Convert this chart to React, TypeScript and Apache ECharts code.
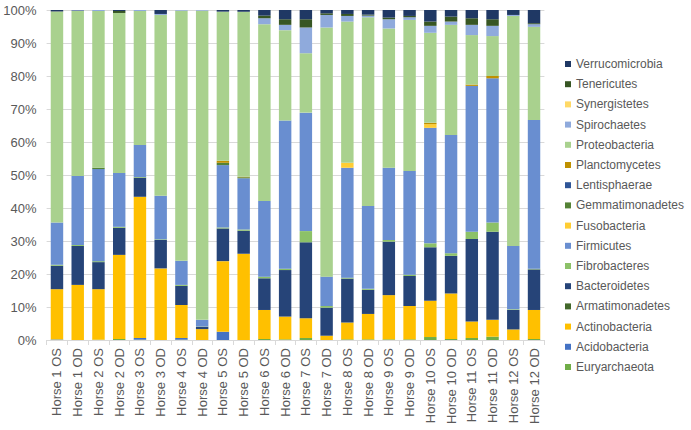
import React, { useEffect, useRef } from "react";
import * as echarts from "echarts";

const categories = [
  "Horse 1 OS", "Horse 1 OD", "Horse 2 OS", "Horse 2 OD", "Horse 3 OS", "Horse 3 OD",
  "Horse 4 OS", "Horse 4 OD", "Horse 5 OS", "Horse 5 OD", "Horse 6 OS", "Horse 6 OD",
  "Horse 7 OS", "Horse 7 OD", "Horse 8 OS", "Horse 8 OD", "Horse 9 OS", "Horse 9 OD",
  "Horse 10 OS", "Horse 10 OD", "Horse 11 OS", "Horse 11 OD", "Horse 12 OS", "Horse 12 OD",
];

const euryarchaeota = [0.1, 0, 0.1, 0.3, 0.1, 0, 0.1, 0, 0, 0, 0.3, 0.2, 0.6, 0, 0.2, 0.2, 0.2, 0.2, 0.9, 0.3, 0.6, 1.0, 0, 0.3];
const acidobacteria = [0.1, 0, 0, 0, 0.5, 0, 0.5, 0, 2.5, 0, 0, 0, 0, 0, 0, 0, 0, 0, 0, 0, 0, 0, 0, 0];
const actinobacteria = [15.2, 16.7, 15.3, 25.5, 42.8, 21.7, 10.0, 3.3, 21.4, 26.1, 8.8, 6.9, 6.0, 1.3, 5.1, 7.7, 13.4, 10.1, 11.0, 13.8, 5.0, 5.1, 3.2, 8.8];
const armatimonadetes = [0, 0, 0, 0, 0, 0, 0, 0, 0, 0, 0, 0, 0, 0, 0, 0, 0, 0, 0, 0, 0, 0, 0, 0];
const bacteroidetes = [7.1, 11.8, 8.2, 8.2, 5.8, 8.6, 5.8, 0.7, 9.9, 7.0, 9.6, 14.1, 23.0, 8.5, 13.3, 7.3, 16.2, 9.1, 16.2, 11.4, 25.0, 26.7, 5.9, 12.3];
const fibrobacteres = [0.3, 0.3, 0.3, 0.3, 0.2, 0.2, 0.3, 0.1, 0.3, 0.4, 0.5, 0.4, 3.4, 0.5, 0.3, 0.3, 0.5, 0.4, 1.2, 0.8, 2.2, 2.8, 0.2, 0.2];
const firmicutes = [12.8, 20.9, 27.9, 16.3, 9.7, 13.2, 7.3, 2.0, 18.9, 15.5, 22.9, 44.9, 35.9, 8.9, 33.3, 25.1, 21.9, 31.4, 35.0, 35.8, 44.2, 43.7, 19.2, 45.1];
const fusobacteria = [0, 0, 0, 0, 0, 0, 0, 0, 0, 0, 0, 0, 0, 0, 1.5, 0, 0, 0, 1.1, 0, 0, 0, 0, 0];
const gemmatimonadetes = [0, 0, 0.4, 0, 0, 0, 0, 0, 0.7, 0.3, 0, 0, 0, 0, 0, 0, 0, 0, 0, 0, 0, 0, 0, 0];
const lentisphaerae = [0, 0, 0, 0, 0, 0, 0, 0, 0, 0, 0, 0, 0, 0, 0, 0, 0, 0, 0, 0, 0, 0, 0, 0];
const planctomycetes = [0, 0, 0, 0, 0, 0, 0, 0, 0.6, 0.2, 0, 0, 0, 0, 0, 0, 0, 0, 0.4, 0, 0.4, 0.7, 0, 0];
const proteobacteria = [63.9, 50.0, 47.5, 48.5, 40.6, 54.8, 75.8, 93.7, 45.2, 50.0, 53.6, 27.4, 18.0, 75.5, 42.8, 57.2, 42.2, 45.8, 27.3, 33.4, 15.0, 12.1, 69.7, 28.2];
const spirochaetes = [0, 0.2, 0.3, 0, 0.3, 0.3, 0.2, 0.2, 0, 0, 1.8, 1.6, 7.8, 3.8, 1.7, 0.5, 2.8, 0.8, 2.1, 1.0, 3.1, 3.1, 0.3, 0.8];
const synergistetes = [0, 0, 0, 0, 0, 0, 0, 0, 0, 0, 0, 0, 0, 0, 0, 0, 0, 0, 0, 0, 0, 0, 0, 0];
const tenericutes = [0.1, 0, 0, 0.6, 0, 0, 0, 0, 0, 0, 0.8, 1.7, 2.5, 0.5, 0.6, 0.3, 0.5, 0.4, 1.3, 1.5, 2.0, 2.0, 0, 0.3];
const verrucomicrobia = [0.4, 0.1, 0, 0.3, 0, 1.2, 0, 0, 0.5, 0.5, 1.7, 2.8, 2.8, 1.0, 1.2, 1.4, 2.3, 1.8, 3.5, 2.0, 2.5, 2.8, 1.5, 4.0];

const yTicks = [0, 10, 20, 30, 40, 50, 60, 70, 80, 90, 100];

const seriesDefs: [string, number[], string][] = [
  ["Euryarchaeota", euryarchaeota, "#70AD47"],
  ["Acidobacteria", acidobacteria, "#4472C4"],
  ["Actinobacteria", actinobacteria, "#FFC000"],
  ["Armatimonadetes", armatimonadetes, "#43682B"],
  ["Bacteroidetes", bacteroidetes, "#264478"],
  ["Fibrobacteres", fibrobacteres, "#8CC168"],
  ["Firmicutes", firmicutes, "#698ED0"],
  ["Fusobacteria", fusobacteria, "#FFCD33"],
  ["Gemmatimonadetes", gemmatimonadetes, "#548235"],
  ["Lentisphaerae", lentisphaerae, "#2F5597"],
  ["Planctomycetes", planctomycetes, "#BF9000"],
  ["Proteobacteria", proteobacteria, "#A9D18E"],
  ["Spirochaetes", spirochaetes, "#8FAADC"],
  ["Synergistetes", synergistetes, "#FFD966"],
  ["Tenericutes", tenericutes, "#375623"],
  ["Verrucomicrobia", verrucomicrobia, "#1F3864"],
];

export default function App() {
  const ref = useRef<HTMLDivElement>(null);
  useEffect(() => {
    if (!ref.current) return;
    const chart = echarts.init(ref.current, undefined, { renderer: "svg" });
    const totals = categories.map((_, i) =>
      seriesDefs.reduce((s, d) => s + d[1][i], 0)
    );
    const font = "'Liberation Sans', Arial, sans-serif";
    chart.setOption({
      animation: false,
      textStyle: { fontFamily: font },
      grid: { left: 46.6, top: 10, width: 497.8, height: 330, containLabel: false },
      legend: {
        orient: "vertical",
        left: 560,
        top: 53,
        icon: "rect",
        itemWidth: 6,
        itemHeight: 6,
        itemGap: 8.2,
        data: seriesDefs.map((d) => d[0]).reverse(),
        textStyle: { fontSize: 12, color: "#595959", fontFamily: font },
      },
      xAxis: {
        type: "category",
        data: categories,
        axisLine: { lineStyle: { color: "#D9D9D9" } },
        axisTick: { show: true, length: 5, lineStyle: { color: "#D9D9D9" } },
        axisLabel: { rotate: 90, interval: 0, fontSize: 13, color: "#595959", margin: 8, fontFamily: font },
      },
      yAxis: {
        type: "value",
        min: yTicks[0],
        max: yTicks[yTicks.length - 1],
        interval: 10,
        axisLine: { show: false },
        axisTick: { show: false },
        splitLine: { lineStyle: { color: "#D9D9D9" } },
        axisLabel: { formatter: "{value}%", fontSize: 13, color: "#595959", margin: 10, fontFamily: font },
      },
      series: seriesDefs.map(([name, vals, color]) => ({
        name,
        type: "bar",
        stack: "total",
        barCategoryGap: "40%",
        itemStyle: { color },
        data: vals.map((v, i) => (v / totals[i]) * 100),
      })),
    });
    return () => chart.dispose();
  }, []);
  return (
    <div
      ref={ref}
      style={{ position: "fixed", left: 0, top: 0, width: 691, height: 430, background: "#fff" }}
    />
  );
}
